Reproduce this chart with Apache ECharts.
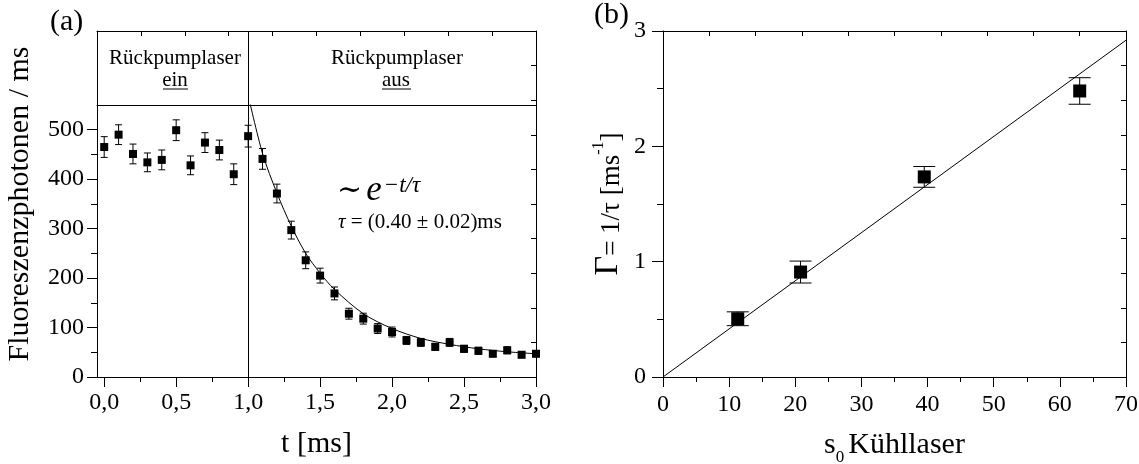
<!DOCTYPE html>
<html>
<head>
<meta charset="utf-8">
<script src="https://cdn.jsdelivr.net/npm/echarts@6/dist/echarts.min.js"></script>
<style>
    html, body { margin: 0; padding: 0; background: #fff; }
    #chart { width: 1139px; height: 464px; }
</style>
</head>
<body>
<div id="chart"></div>
<script>
(function () {
    'use strict';

    // (a) Fluoreszenz nach Abschalten des Rueckpumplasers
    var timeValues = [0.0, 0.1, 0.2, 0.3, 0.4, 0.5, 0.6, 0.7, 0.8, 0.9,
        1.0, 1.1, 1.2, 1.3, 1.4, 1.5, 1.6, 1.7, 1.8, 1.9,
        2.0, 2.1, 2.2, 2.3, 2.4, 2.5, 2.6, 2.7, 2.8, 2.9, 3.0];
    var photonValues = [465, 490, 451, 434, 439, 499, 428, 474, 459, 410,
        487, 441, 371, 297, 236, 205, 169, 128, 118, 98,
        91, 74, 70, 61, 70, 57, 53, 47, 54, 45, 47];
    var photonErrors = [21, 20, 20, 19, 20, 21, 19, 20, 20, 21,
        22, 21, 19, 18, 17, 15, 13, 11, 11, 10,
        10, 8, 8, 7, 8, 7, 7, 6, 7, 6, 6];
    var fitTimes = [1.0, 1.1, 1.2, 1.3, 1.4, 1.5, 1.6, 1.8, 2.0, 2.2, 2.4, 2.6, 2.8, 3.0];
    var fitPhotons = [570, 452, 372, 305, 250, 210, 177, 128, 98, 78, 66, 57, 51, 47];
    var switchOffTime = 1.0;
    var timeTicks = [0, 0.5, 1, 1.5, 2, 2.5, 3];
    var timeMinorTicks = [0.25, 0.75, 1.25, 1.75, 2.25, 2.75];
    var photonTicks = [0, 100, 200, 300, 400, 500];
    var photonMinorTicks = [50, 150, 250, 350, 450];

    // (b) Zerfallsrate gegen Saettigungsparameter
    var s0Values = [11.3, 20.8, 39.5, 63.0];
    var gammaValues = [0.505, 0.91, 1.735, 2.48];
    var gammaErrors = [0.06, 0.095, 0.09, 0.115];
    var fitS0 = [0, 70];
    var fitGamma = [0, 2.92];

    var serif = 'Liberation Serif';
    var black = '#000';
    var axisLineStyle = {color: black, width: 1};
    var tickFont = {color: black, fontFamily: serif, fontSize: 24};

    function pairs(xs, ys) {
        return xs.map(function (x, i) {
            return [x, ys[i]];
        });
    }

    function errorRows(xs, ys, errs) {
        return xs.map(function (x, i) {
            return [x, ys[i] - errs[i], ys[i] + errs[i]];
        });
    }

    //误差线
    function errorBar(capHalf) {
        return function (params, api) {
            var x = api.value(0);
            var top = api.coord([x, api.value(2)]);
            var bottom = api.coord([x, api.value(1)]);
            var style = {stroke: black, lineWidth: 1, fill: null};
            return {
                type: 'group',
                children: [
                    {type: 'line', shape: {x1: top[0], y1: top[1], x2: bottom[0], y2: bottom[1]}, style: style},
                    {type: 'line', shape: {x1: top[0] - capHalf, y1: top[1], x2: top[0] + capHalf, y2: top[1]}, style: style},
                    {type: 'line', shape: {x1: bottom[0] - capHalf, y1: bottom[1], x2: bottom[0] + capHalf, y2: bottom[1]}, style: style}
                ]
            };
        };
    }

    var switchLine = {
        symbol: 'none',
        silent: true,
        animation: false,
        label: {show: false},
        lineStyle: {color: black, width: 1, type: 'solid'},
        data: [{xAxis: switchOffTime}]
    };

    var plainGrid = {containLabel: false, outerBoundsMode: 'none'};

    function headerText(x, y, text) {
        return {
            type: 'text', x: x, y: y,
            style: {
                text: text, fill: black, fontFamily: serif, fontSize: 21,
                align: 'center', verticalAlign: 'middle', textAlign: 'center', textVerticalAlign: 'middle'
            }
        };
    }

    var option = {
        animation: false,
        backgroundColor: '#fff',
        grid: [
            Object.assign({left: 97, top: 31, width: 439, height: 346}, plainGrid),
            Object.assign({left: 97, top: 31, width: 439, height: 74}, plainGrid),
            Object.assign({left: 97, top: 105, width: 439, height: 272}, plainGrid),
            Object.assign({left: 97, top: 105, width: 439, height: 272}, plainGrid),
            Object.assign({left: 663, top: 31, width: 463, height: 346}, plainGrid)
        ],
        xAxis: [
            {
                gridIndex: 0, type: 'value', position: 'top', min: 0, max: 10, interval: 1,
                axisLine: {show: true, onZero: false, lineStyle: axisLineStyle},
                axisTick: {show: true, inside: true, length: 5, lineStyle: axisLineStyle},
                axisLabel: {show: false}, splitLine: {show: false}
            },
            {
                gridIndex: 1, type: 'value', min: -0.05, max: 3,
                axisLine: {show: true, onZero: false, lineStyle: axisLineStyle},
                axisTick: {show: false}, axisLabel: {show: false}, splitLine: {show: false}
            },
            {
                gridIndex: 2, type: 'value', min: -0.05, max: 3,
                axisLine: {show: true, onZero: false, lineStyle: axisLineStyle},
                axisTick: {show: true, customValues: timeTicks, length: 10, lineStyle: axisLineStyle},
                axisLabel: Object.assign({
                    customValues: timeTicks, margin: 14,
                    formatter: function (v) {
                        return v.toFixed(1).replace('.', ',');
                    }
                }, tickFont),
                splitLine: {show: false},
                name: 't [ms]', nameLocation: 'middle', nameGap: 52,
                nameTextStyle: {color: black, fontFamily: serif, fontSize: 30}
            },
            {
                gridIndex: 3, type: 'value', min: -0.05, max: 3,
                axisLine: {show: false, onZero: false},
                axisTick: {show: true, customValues: timeMinorTicks, length: 5, lineStyle: axisLineStyle},
                axisLabel: {show: false}, splitLine: {show: false}
            },
            {
                gridIndex: 4, type: 'value', min: 0, max: 70, interval: 10,
                axisLine: {show: true, onZero: false, lineStyle: axisLineStyle},
                axisTick: {show: true, length: 10, lineStyle: axisLineStyle},
                minorTick: {show: true, splitNumber: 2, length: 5, lineStyle: axisLineStyle},
                axisLabel: Object.assign({margin: 16}, tickFont),
                splitLine: {show: false}, minorSplitLine: {show: false},
                name: '{n|s}{sub|0}{n|Kühllaser}', nameLocation: 'middle', nameGap: 53,
                nameTextStyle: {
                    color: black, fontFamily: serif, fontSize: 30,
                    rich: {
                        n: {color: black, fontFamily: serif, fontSize: 30, lineHeight: 30, verticalAlign: 'top'},
                        sub: {color: black, fontFamily: serif, fontSize: 17, lineHeight: 17, verticalAlign: 'top', padding: [19, 4, 0, 0]}
                    }
                }
            },
            {
                gridIndex: 4, type: 'value', position: 'top', min: 0, max: 70, interval: 7,
                axisLine: {show: true, onZero: false, lineStyle: axisLineStyle},
                axisTick: {show: true, inside: true, length: 5, lineStyle: axisLineStyle},
                axisLabel: {show: false}, splitLine: {show: false}
            }
        ],
        yAxis: [
            {
                gridIndex: 0, type: 'value', position: 'right', min: 0, max: 10, interval: 1,
                axisLine: {show: true, onZero: false, lineStyle: axisLineStyle},
                axisTick: {show: true, inside: true, length: 5, lineStyle: axisLineStyle},
                axisLabel: {show: false}, splitLine: {show: false}
            },
            {
                gridIndex: 0, type: 'value', position: 'left', min: 0, max: 10,
                axisLine: {show: true, onZero: false, lineStyle: axisLineStyle},
                axisTick: {show: false}, axisLabel: {show: false}, splitLine: {show: false},
                name: 'Fluoreszenzphotonen / ms', nameLocation: 'middle', nameGap: 62,
                nameTextStyle: {color: black, fontFamily: serif, fontSize: 30}
            },
            {
                gridIndex: 1, type: 'value', min: 0, max: 1, show: false
            },
            {
                gridIndex: 2, type: 'value', min: 0, max: 550,
                axisLine: {show: true, onZero: false, lineStyle: axisLineStyle},
                axisTick: {show: true, customValues: photonTicks, length: 10, lineStyle: axisLineStyle},
                axisLabel: Object.assign({customValues: photonTicks, margin: 13}, tickFont),
                splitLine: {show: false}
            },
            {
                gridIndex: 3, type: 'value', min: 0, max: 550,
                axisLine: {show: false, onZero: false},
                axisTick: {show: true, customValues: photonMinorTicks, length: 6, lineStyle: axisLineStyle},
                axisLabel: {show: false}, splitLine: {show: false}
            },
            {
                gridIndex: 4, type: 'value', min: 0, max: 3, interval: 1,
                axisLine: {show: true, onZero: false, lineStyle: axisLineStyle},
                axisTick: {show: true, length: 11, lineStyle: axisLineStyle},
                minorTick: {show: true, splitNumber: 2, length: 6, lineStyle: axisLineStyle},
                axisLabel: Object.assign({margin: 17}, tickFont),
                splitLine: {show: false}, minorSplitLine: {show: false},
                name: '{g|Γ}{n|= 1/τ [ms}{sup|-1}{n|]}', nameLocation: 'middle', nameGap: 38,
                nameTextStyle: {
                    color: black, fontFamily: serif, fontSize: 27,
                    rich: {
                        g: {color: black, fontFamily: serif, fontSize: 34, lineHeight: 34, verticalAlign: 'bottom'},
                        n: {color: black, fontFamily: serif, fontSize: 27, lineHeight: 28, verticalAlign: 'bottom'},
                        sup: {color: black, fontFamily: serif, fontSize: 16, lineHeight: 16, verticalAlign: 'top'}
                    }
                }
            },
            {
                gridIndex: 4, type: 'value', position: 'right', min: 0, max: 3, interval: 0.3,
                axisLine: {show: true, onZero: false, lineStyle: axisLineStyle},
                axisTick: {show: true, inside: true, length: 5, lineStyle: axisLineStyle},
                axisLabel: {show: false}, splitLine: {show: false}
            }
        ],
        graphic: [
            {type: 'text', x: 50, y: 7, style: {text: '(a)', fill: black, fontFamily: serif, fontSize: 30}},
            {type: 'text', x: 594, y: 0, style: {text: '(b)', fill: black, fontFamily: serif, fontSize: 30}},
            headerText(175, 58, 'Rückpumplaser'),
            headerText(175, 80, 'ein'),
            {type: 'line', shape: {x1: 163, y1: 89, x2: 188, y2: 89}, style: {stroke: black, lineWidth: 1}},
            headerText(397, 58, 'Rückpumplaser'),
            headerText(396, 80, 'aus'),
            {type: 'line', shape: {x1: 382, y1: 89, x2: 411, y2: 89}, style: {stroke: black, lineWidth: 1}},
            {
                type: 'text', x: 337, y: 174,
                style: {
                    text: '{t|∼}{e|e}{s|−t/τ}',
                    fill: black, verticalAlign: 'top', textVerticalAlign: 'top',
                    rich: {
                        t: {fill: black, fontFamily: 'DejaVu Serif', fontSize: 30, lineHeight: 34, verticalAlign: 'bottom', padding: [0, 4, 2, 0]},
                        e: {fill: black, fontFamily: serif, fontStyle: 'italic', fontSize: 35, lineHeight: 34, verticalAlign: 'bottom'},
                        s: {fill: black, fontFamily: serif, fontStyle: 'italic', fontSize: 23, lineHeight: 22, verticalAlign: 'top', padding: [0, 0, 0, 2]}
                    }
                }
            },
            {
                type: 'text', x: 338, y: 212,
                style: {
                    text: '{i|τ} = (0.40 ± 0.02)ms',
                    fill: black, fontFamily: serif, fontSize: 21, verticalAlign: 'top', textVerticalAlign: 'top',
                    rich: {
                        i: {fill: black, fontFamily: serif, fontStyle: 'italic', fontSize: 21}
                    }
                }
            }
        ],
        series: [
            {
                type: 'scatter', xAxisIndex: 1, yAxisIndex: 2,
                data: [[switchOffTime, 0]], symbolSize: 0, silent: true,
                markLine: switchLine
            },
            {
                type: 'custom', xAxisIndex: 2, yAxisIndex: 3,
                data: errorRows(timeValues, photonValues, photonErrors),
                encode: {x: 0, y: [1, 2]},
                renderItem: errorBar(3.5), silent: true, z: 3
            },
            {
                type: 'scatter', xAxisIndex: 2, yAxisIndex: 3,
                data: pairs(timeValues, photonValues),
                symbol: 'rect', symbolSize: 8, clip: false,
                itemStyle: {color: black, opacity: 1}, z: 4,
                markLine: switchLine
            },
            {
                type: 'line', xAxisIndex: 2, yAxisIndex: 3,
                data: pairs(fitTimes, fitPhotons),
                smooth: 0.3, showSymbol: false, clip: true,
                lineStyle: {color: black, width: 1}, z: 2
            },
            {
                type: 'line', xAxisIndex: 4, yAxisIndex: 5,
                data: pairs(fitS0, fitGamma),
                showSymbol: false, clip: true,
                lineStyle: {color: black, width: 1}, z: 2
            },
            {
                type: 'custom', xAxisIndex: 4, yAxisIndex: 5,
                data: errorRows(s0Values, gammaValues, gammaErrors),
                encode: {x: 0, y: [1, 2]},
                renderItem: errorBar(11), silent: true, z: 3
            },
            {
                type: 'scatter', xAxisIndex: 4, yAxisIndex: 5,
                data: pairs(s0Values, gammaValues),
                symbol: 'rect', symbolSize: 13,
                itemStyle: {color: black, opacity: 1}, z: 4
            }
        ]
    };

    var myChart = echarts.init(document.getElementById('chart'), null, {renderer: 'canvas'});
    myChart.setOption(option);
})();
</script>
</body>
</html>
